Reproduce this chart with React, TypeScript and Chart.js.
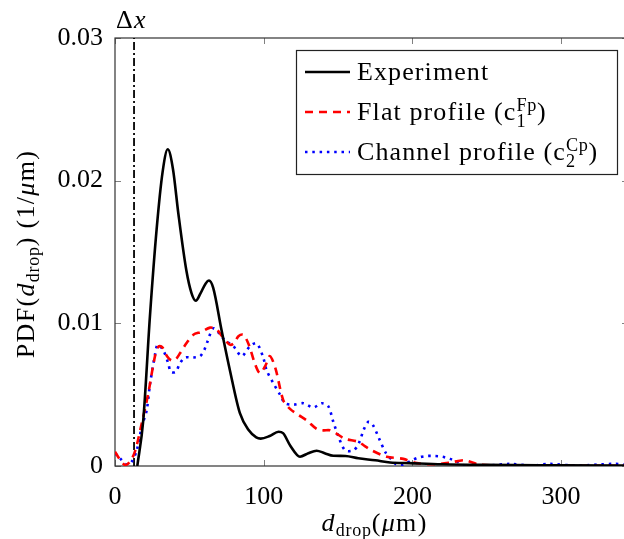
import React, { useEffect, useRef } from "react";
import { Chart, registerables } from "chart.js";
Chart.register(...registerables);

// ---------- data ----------
const expX = [15, 19, 23.5, 28, 32, 35.5, 39, 42.6, 48, 51.5, 54.3, 57.5, 61, 63.2, 66, 71.7, 77.3, 84, 90, 95, 98, 104, 110, 113, 118, 124.4, 130, 135.6, 141, 146.8, 155, 163.6, 175, 185, 198, 220, 250, 300, 345];
const expY = [0, 0.0032, 0.0105, 0.0166, 0.0206, 0.0222, 0.0208, 0.0177, 0.0137, 0.0121, 0.01158, 0.0121, 0.0128, 0.013, 0.0125, 0.0095, 0.0067, 0.0037, 0.0025, 0.002, 0.00192, 0.0021, 0.0024, 0.0023, 0.0014, 0.00065, 0.0009, 0.00107, 0.0009, 0.00072, 0.0007, 0.00054, 0.0004, 0.00025, 0.0002, 0.00012, 0.00008, 0.00005, 0.00003];

const flatX = [0, 3, 6.7, 10, 13.4, 18, 22.4, 26.9, 29.5, 32, 35, 38, 41, 43.7, 48, 52.7, 58, 63.9, 68, 72, 77.3, 80, 83, 86.3, 90, 94, 97.5, 101, 104.2, 108, 113.2, 117.7, 123, 128.9, 135.6, 140, 144.6, 150, 154.7, 163.5, 168, 172.6, 182.7, 193.9, 202.9, 214, 225, 235, 245, 260, 280, 300, 345];
const flatY = [0.001, 0.0005, 0.00007, 0.0003, 0.001, 0.003, 0.0051, 0.0077, 0.0084, 0.0083, 0.0077, 0.0074, 0.0075, 0.0079, 0.0086, 0.0092, 0.0094, 0.0097, 0.0096, 0.0091, 0.0085, 0.0086, 0.0091, 0.0092, 0.0085, 0.0072, 0.0065, 0.007, 0.0077, 0.0068, 0.0046, 0.004, 0.0036, 0.0032, 0.0026, 0.0025, 0.0025, 0.0022, 0.0019, 0.0017, 0.0014, 0.0011, 0.00065, 0.0005, 0.0002, 0.00012, 0.00023, 0.0004, 0.0001, 0.00005, 0.00002, 0.00002, 0.00001];

const chanX = [0, 3.4, 7.8, 11.2, 14.6, 18, 21.3, 23.5, 26.9, 28.7, 32.5, 35.8, 37.5, 40.8, 43.7, 47, 52.2, 57.2, 59.9, 62.1, 66.1, 70, 74, 79.6, 85.2, 90.8, 95.3, 99.7, 102, 106.5, 111, 114.3, 120, 126.6, 133.4, 139, 143.4, 146.8, 150.2, 154.7, 160.3, 163.6, 167.5, 170.5, 173.3, 177.7, 182.2, 185.6, 189.4, 194.3, 199.5, 204.2, 209.6, 214.7, 220.1, 225.3, 230.2, 235, 250, 266, 280, 292, 310, 335, 345];
const chanY = [0.0009, 0.00054, 0.0001, 0.0003, 0.0011, 0.00275, 0.0039, 0.0057, 0.0078, 0.0085, 0.0081, 0.0072, 0.0066, 0.0066, 0.0072, 0.0076, 0.0076, 0.0077, 0.0081, 0.0087, 0.00965, 0.0093, 0.0088, 0.0084, 0.0077, 0.0084, 0.0086, 0.0076, 0.0067, 0.0058, 0.005, 0.0044, 0.0043, 0.0044, 0.0041, 0.0044, 0.0042, 0.0031, 0.0021, 0.0011, 0.0011, 0.0015, 0.0026, 0.0031, 0.0029, 0.0019, 0.0009, 0.0005, 0.0001, 0.0001, 0.0004, 0.0006, 0.0007, 0.0007, 0.00065, 0.0005, 0.0003, 0.00005, 0.00003, 0.00015, 0.00003, 0.00015, 0.00003, 0.00015, 0.0001];

const deltaX = 12.8;
const xMin = 0;
const xMax = 345;
const yMin = 0;
const yMax = 0.03;
const xTicks = [0, 100, 200, 300];
const xTickLabels = ["0", "100", "200", "300"];
const yTicks = [0, 0.01, 0.02, 0.03];
const yTickLabels = ["0", "0.01", "0.02", "0.03"];

const seriesLabels = ["Experiment", "Flat profile (", "Channel profile ("];
const seriesSup = ["", "Fp", "Cp"];
const seriesSub = ["", "1", "2"];
const seriesColors = ["#000000", "#ff0000", "#0000ff"];

// ---------- helpers ----------
const FONT = '"Liberation Serif", "Times New Roman", serif';
const BASE = 26;
const LS = 1.3; // extra letter spacing to mimic Computer Modern widths

type Seg = { t?: string; it?: boolean; sz?: number; dy?: number; sup?: string; sub?: string };

function fnt(sz: number, it?: boolean) {
  return `${it ? "italic " : ""}${sz}px ${FONT}`;
}

function textW(ctx: CanvasRenderingContext2D, t: string, ls: number) {
  return ctx.measureText(t).width + t.length * ls;
}

function drawSpaced(ctx: CanvasRenderingContext2D, t: string, x: number, y: number, ls: number) {
  let cx = x;
  for (const ch of t) {
    ctx.fillText(ch, cx, y);
    cx += ctx.measureText(ch).width + ls;
  }
}

function segW(ctx: CanvasRenderingContext2D, s: Seg, ls: number) {
  if (s.sup !== undefined || s.sub !== undefined) {
    ctx.font = fnt(BASE * 0.7);
    return Math.max(textW(ctx, s.sup || "", ls * 0.6), textW(ctx, s.sub || "", ls * 0.6));
  }
  ctx.font = fnt(s.sz ?? BASE, s.it);
  const l = (s.sz ?? BASE) < BASE ? ls * 0.6 : ls;
  return textW(ctx, s.t || "", l);
}

function drawRich(ctx: CanvasRenderingContext2D, segs: Seg[], x: number, y: number, align: "left" | "center", ls = LS) {
  const total = segs.reduce((a, s) => a + segW(ctx, s, ls), 0);
  let cx = align === "center" ? x - total / 2 : x;
  ctx.textAlign = "left";
  ctx.textBaseline = "alphabetic";
  ctx.fillStyle = "#000";
  for (const s of segs) {
    const w = segW(ctx, s, ls);
    if (s.sup !== undefined || s.sub !== undefined) {
      ctx.font = fnt(BASE * 0.7);
      if (s.sup) drawSpaced(ctx, s.sup, cx, y - 9, ls * 0.6);
      if (s.sub) drawSpaced(ctx, s.sub, cx, y + 7, ls * 0.6);
    } else {
      ctx.font = fnt(s.sz ?? BASE, s.it);
      const l = (s.sz ?? BASE) < BASE ? ls * 0.6 : ls;
      drawSpaced(ctx, s.t || "", cx, y + (s.dy ?? 0), l);
    }
    cx += w;
  }
}

const framePlugin = {
  id: "frame",
  beforeDatasetsDraw(chart: any) {
    const { ctx, chartArea: a, scales } = chart;
    ctx.save();
    ctx.strokeStyle = "#808080";
    ctx.lineWidth = 1;
    const tl = 6;
    for (const v of xTicks) {
      const px = Math.round(scales.x.getPixelForValue(v)) + 0.5;
      ctx.beginPath();
      ctx.moveTo(px, a.bottom);
      ctx.lineTo(px, a.bottom - tl);
      ctx.moveTo(px, a.top);
      ctx.lineTo(px, a.top + tl);
      ctx.stroke();
    }
    for (const v of yTicks) {
      const py = Math.round(scales.y.getPixelForValue(v)) + 0.5;
      ctx.beginPath();
      ctx.moveTo(a.left, py);
      ctx.lineTo(a.left + tl, py);
      ctx.moveTo(a.right, py);
      ctx.lineTo(a.right - tl, py);
      ctx.stroke();
    }
    ctx.strokeStyle = "#333";
    ctx.lineWidth = 1.2;
    ctx.strokeRect(a.left, a.top, a.right - a.left, a.bottom - a.top);
    ctx.restore();
  },
};

const textPlugin = {
  id: "texts",
  afterDraw(chart: any) {
    const { ctx, chartArea: a } = chart;
    ctx.save();
    // Delta x label
    drawRich(ctx, [{ t: "Δ" }, { t: "x", it: true }], 116, 28, "left");
    // x title
    drawRich(
      ctx,
      [{ t: "d", it: true }, { t: "drop", sz: 18, dy: 5 }, { t: "(" }, { t: "μ", it: true }, { t: "m)" }],
      (a.left + a.right) / 2 + 3,
      531,
      "center"
    );
    // y title
    ctx.save();
    ctx.translate(34, 254);
    ctx.rotate(-Math.PI / 2);
    drawRich(
      ctx,
      [{ t: "PDF(" }, { t: "d", it: true }, { t: "drop", sz: 18, dy: 5 }, { t: ") (1/" }, { t: "μ", it: true }, { t: "m)" }],
      0,
      0,
      "center"
    );
    ctx.restore();
    // legend
    const bx = 296, by = 50, bw = 321, bh = 124;
    ctx.fillStyle = "#fff";
    ctx.fillRect(bx, by, bw, bh);
    ctx.strokeStyle = "#222";
    ctx.lineWidth = 1.2;
    ctx.strokeRect(bx + 0.5, by + 0.5, bw, bh);
    const dashes = [[], [8, 6], [2.5, 4.8]];
    for (let i = 0; i < seriesLabels.length; i++) {
      const base = 79.5 + i * 40;
      const ly = base - 7.5;
      ctx.save();
      ctx.strokeStyle = seriesColors[i];
      ctx.lineWidth = 2.6;
      ctx.setLineDash(dashes[i]);
      ctx.beginPath();
      ctx.moveTo(305, ly);
      ctx.lineTo(350, ly);
      ctx.stroke();
      ctx.restore();
      const segs: Seg[] = [{ t: seriesLabels[i] }];
      if (seriesSup[i]) {
        segs.push({ t: "c" }, { sup: seriesSup[i], sub: seriesSub[i] }, { t: ")" });
      }
      drawRich(ctx, segs, 357, base, "left", 1.1);
    }
    ctx.restore();
  },
};

export default function App() {
  const ref = useRef<HTMLCanvasElement>(null);
  useEffect(() => {
    const canvas = ref.current!;
    const pts = (xs: number[], ys: number[]) => xs.map((x, i) => ({ x, y: ys[i] }));
    const chart = new Chart(canvas, {
      type: "line",
      data: {
        datasets: [
          {
            label: seriesLabels[0],
            data: pts(expX, expY),
            borderColor: seriesColors[0],
            borderWidth: 2.6,
            pointRadius: 0,
            cubicInterpolationMode: "monotone",
            fill: false,
          },
          {
            label: seriesLabels[1],
            data: pts(flatX, flatY),
            borderColor: seriesColors[1],
            borderWidth: 2.6,
            borderDash: [8, 6],
            pointRadius: 0,
            tension: 0.3,
            fill: false,
          },
          {
            label: seriesLabels[2],
            data: pts(chanX, chanY),
            borderColor: seriesColors[2],
            borderWidth: 2.6,
            borderDash: [2.5, 4.8],
            pointRadius: 0,
            tension: 0.3,
            fill: false,
          },
          {
            label: "Δx",
            data: [
              { x: deltaX, y: yMin },
              { x: deltaX, y: yMax },
            ],
            borderColor: "#000",
            borderWidth: 1.8,
            borderDash: [8, 3, 2, 3],
            pointRadius: 0,
            fill: false,
          },
        ] as any,
      },
      options: {
        responsive: false,
        animation: false,
        devicePixelRatio: 1,
        layout: { padding: { top: 38, right: 12, left: 0, bottom: 0 } },
        plugins: { legend: { display: false }, tooltip: { enabled: false } },
        scales: {
          x: {
            type: "linear",
            min: xMin,
            max: xMax,
            grid: { display: false, drawTicks: false },
            border: { display: false },
            ticks: {
              font: { family: FONT, size: 26 },
              color: "#000",
              padding: 16,
              maxRotation: 0,
              autoSkip: false,
              callback: (v: any) => {
                const i = xTicks.indexOf(Number(v));
                return i >= 0 ? xTickLabels[i] : "";
              },
            },
            afterBuildTicks: (s: any) => {
              s.ticks = xTicks.map((v) => ({ value: v }));
            },
            afterFit: (s: any) => {
              s.height = 73;
            },
          },
          y: {
            type: "linear",
            min: yMin,
            max: yMax,
            grid: { display: false, drawTicks: false },
            border: { display: false },
            ticks: {
              font: { family: FONT, size: 26 },
              color: "#000",
              padding: 12,
              autoSkip: false,
              callback: (v: any) => {
                const i = yTicks.findIndex((t) => Math.abs(t - Number(v)) < 1e-9);
                return i >= 0 ? yTickLabels[i] : "";
              },
            },
            afterBuildTicks: (s: any) => {
              s.ticks = yTicks.map((v) => ({ value: v }));
            },
            afterFit: (s: any) => {
              s.width = 115;
            },
          },
        },
      } as any,
      plugins: [framePlugin, textPlugin],
    });
    return () => chart.destroy();
  }, []);
  return (
    <div style={{ position: "fixed", left: 0, top: 0, width: 624, height: 539, overflow: "hidden", background: "#fff" }}>
      <canvas ref={ref} width={640} height={539} style={{ display: "block", width: 640, height: 539 }} />
    </div>
  );
}
